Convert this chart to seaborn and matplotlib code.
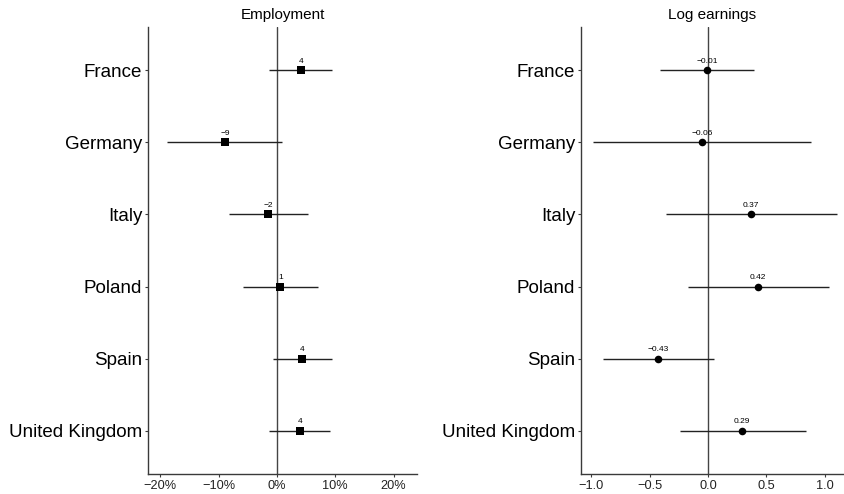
import numpy as np
import matplotlib
matplotlib.use("Agg")
import matplotlib.pyplot as plt
import seaborn as sns

countries = ["France", "Germany", "Italy", "Poland", "Spain", "United Kingdom"]

emp_est = [4.1, -8.9, -1.5, 0.6, 4.3, 3.9]
emp_lo = [-1.3, -18.8, -8.3, -5.8, -0.7, -1.4]
emp_hi = [9.5, 0.9, 5.4, 7.0, 9.5, 9.1]
emp_lab = ["4", "\u22129", "\u22122", "1", "4", "4"]

earn_est = [-0.01, -0.05, 0.37, 0.43, -0.43, 0.29]
earn_lo = [-0.41, -0.985, -0.36, -0.17, -0.90, -0.245]
earn_hi = [0.39, 0.88, 1.105, 1.04, 0.05, 0.84]
earn_lab = ["\u22120.01", "\u22120.06", "0.37", "0.42", "\u22120.43", "0.29"]

emp_ticks = [-20, -10, 0, 10, 20]
emp_ticklabels = ["\u221220%", "\u221210%", "0%", "10%", "20%"]
earn_ticks = [-1.0, -0.5, 0.0, 0.5, 1.0]
earn_ticklabels = ["\u22121.0", "\u22120.5", "0.0", "0.5", "1.0"]

sns.set_theme(style="ticks")
plt.rcParams["font.family"] = ["Liberation Sans", "DejaVu Sans"]

fig = plt.figure(figsize=(8.44, 4.94), dpi=100)
ax1 = fig.add_axes([148 / 844, 1 - 474 / 494, 269 / 844, (474 - 27) / 494])
ax2 = fig.add_axes([581 / 844, 1 - 474 / 494, 263 / 844, (474 - 27) / 494])

pos = np.arange(len(countries))
spine_col = "#3a3a3a"


def panel(ax, est, lo, hi, labs, marker, msize, title, xlim, ticks, ticklabels):
    ax.axvline(0, color="#444444", lw=1.0, zorder=1)
    ax.hlines(pos, lo, hi, color="#222222", lw=1.0, zorder=2)
    sns.scatterplot(x=est, y=pos, marker=marker, color="black", s=msize,
                    edgecolor="black", linewidth=0, ax=ax, zorder=3, legend=False)
    for xv, yv, t in zip(est, pos, labs):
        ax.annotate(t, (xv, yv), xytext=(0, 3.8), textcoords="offset points",
                    ha="center", va="bottom", fontsize=6, color="black")
    ax.set_xlim(*xlim)
    ax.set_ylim(len(countries) - 0.4, -0.6)
    ax.set_yticks(pos)
    ax.set_yticklabels(countries, fontsize=13.5, color="black")
    ax.set_xticks(ticks)
    ax.set_xticklabels(ticklabels, fontsize=9.2, color="#222222")
    ax.set_xlabel("")
    ax.set_ylabel("")
    ax.set_title(title, fontsize=11, pad=6, color="black")
    for s in ["top", "right"]:
        ax.spines[s].set_visible(False)
    for s in ["left", "bottom"]:
        ax.spines[s].set_color(spine_col)
        ax.spines[s].set_linewidth(1.0)
    ax.tick_params(axis="both", length=2.2, width=0.8, color=spine_col, pad=2)


panel(ax1, emp_est, emp_lo, emp_hi, emp_lab, "s", 26, "Employment",
      (-22.1, 24.0), emp_ticks, emp_ticklabels)
panel(ax2, earn_est, earn_lo, earn_hi, earn_lab, "o", 30, "Log earnings",
      (-1.09, 1.165), earn_ticks, earn_ticklabels)

fig.savefig("out.png", dpi=100)
